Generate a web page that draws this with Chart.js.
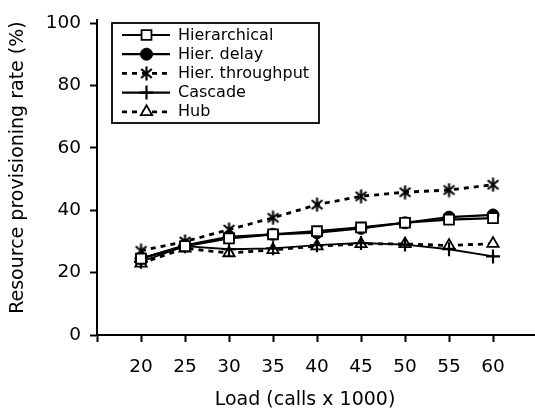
<!DOCTYPE html>
<html><head><meta charset="utf-8">
<script src="https://cdn.jsdelivr.net/npm/chart.js@4/dist/chart.umd.min.js"></script>
<style>html,body{margin:0;padding:0;background:#fff}#wrap{width:535px;height:414px;position:relative}</style>
</head><body><div id="wrap"><canvas id="c" width="535" height="414"></canvas></div>
<script>
// ---- data ----
const loads = [20, 25, 30, 35, 40, 45, 50, 55, 60];
const xTickValues = [15, 20, 25, 30, 35, 40, 45, 50, 55, 60];
const yTickValues = [0, 20, 40, 60, 80, 100];
const seriesNames = ['Hierarchical', 'Hier. delay', 'Hier. throughput', 'Cascade', 'Hub'];
const hierarchical    = [24.5, 28.5, 31.0, 32.3, 33.3, 34.5, 36.0, 37.0, 37.5];
const hierDelay       = [24.5, 28.8, 31.5, 32.3, 32.8, 34.2, 36.0, 37.8, 38.5];
const hierThroughput  = [27.0, 30.0, 33.8, 37.6, 41.8, 44.5, 45.8, 46.5, 48.2];
const cascade         = [23.5, 28.5, 27.5, 27.8, 28.8, 29.5, 29.0, 27.5, 25.2];
const hub             = [23.0, 27.8, 26.3, 27.3, 28.5, 29.2, 29.2, 28.7, 29.3];
const xTitle = 'Load (calls x 1000)';
const yTitle = 'Resource provisioning rate (%)';

const FONT = '"DejaVu Sans", "Liberation Sans", Arial, sans-serif';

function makeAsterisk(size, lw) {
  const c = document.createElement('canvas');
  c.width = c.height = size;
  const g = c.getContext('2d');
  g.strokeStyle = '#000'; g.lineWidth = lw; g.lineCap = 'butt';
  const cx = size / 2, r = size / 2 - 0.5;
  for (const a of [90, 40, 140]) {
    const rad = a * Math.PI / 180;
    g.beginPath();
    g.moveTo(cx - r * Math.cos(rad), cx - r * Math.sin(rad));
    g.lineTo(cx + r * Math.cos(rad), cx + r * Math.sin(rad));
    g.stroke();
  }
  return c;
}
const asterisk = makeAsterisk(15, 2.2);

const pts = arr => arr.map((v, i) => ({ x: loads[i], y: v }));

const datasets = [
  { label: seriesNames[0], data: pts(hierarchical), borderColor: '#000', borderWidth: 2.2,
    pointStyle: 'rect', pointRadius: 7, pointBackgroundColor: '#fff', pointBorderColor: '#000', pointBorderWidth: 1.8 },
  { label: seriesNames[1], data: pts(hierDelay), borderColor: '#000', borderWidth: 2.2,
    pointStyle: 'circle', pointRadius: 6, pointBackgroundColor: '#000', pointBorderColor: '#000', pointBorderWidth: 1 },
  { label: seriesNames[2], data: pts(hierThroughput), borderColor: '#000', borderWidth: 2.8, borderDash: [5, 5],
    pointStyle: asterisk, pointRadius: 7, pointBackgroundColor: '#000', pointBorderColor: '#000', pointBorderWidth: 2 },
  { label: seriesNames[3], data: pts(cascade), borderColor: '#000', borderWidth: 1.8,
    pointStyle: 'cross', pointRadius: 7, pointBackgroundColor: '#000', pointBorderColor: '#000', pointBorderWidth: 2.2 },
  { label: seriesNames[4], data: pts(hub), borderColor: '#000', borderWidth: 2.8, borderDash: [5, 5],
    pointStyle: 'triangle', pointRadius: 6.5, pointBackgroundColor: '#fff', pointBorderColor: '#000', pointBorderWidth: 1.8 }
];
datasets.forEach(d => { d.tension = 0; d.fill = false; d.pointHoverRadius = d.pointRadius; });

const customPlugin = {
  id: 'custom',
  beforeDraw(chart) {
    const ys = chart.scales.y;
    if (ys && !ys._patched) {
      const orig = ys.drawTitle.bind(ys);
      ys.drawTitle = function () {
        const ctx = this.ctx; ctx.save(); ctx.translate(0, -10); orig(); ctx.restore();
      };
      ys._patched = true;
    }
  },
  afterDraw(chart) {
    const ctx = chart.ctx, a = chart.chartArea;
    // extend x axis line to the right edge
    ctx.save();
    ctx.strokeStyle = '#000'; ctx.lineWidth = 2;
    ctx.beginPath(); ctx.moveTo(a.right - 1, a.bottom); ctx.lineTo(chart.width, a.bottom); ctx.stroke();
    // legend
    const bx = 112, by = 23, bw = 207, bh = 100;
    ctx.fillStyle = '#fff'; ctx.fillRect(bx, by, bw, bh);
    ctx.lineWidth = 1.8; ctx.strokeStyle = '#000'; ctx.strokeRect(bx, by, bw, bh);
    ctx.font = '16px ' + FONT; ctx.textBaseline = 'middle'; ctx.textAlign = 'left';
    chart.data.datasets.forEach((ds, i) => {
      const y = 35 + i * 19.2;
      ctx.save();
      ctx.strokeStyle = '#000';
      ctx.lineWidth = ds.borderDash ? 2.8 : 2.2;
      ctx.setLineDash(ds.borderDash || []);
      ctx.beginPath(); ctx.moveTo(122, y); ctx.lineTo(170, y); ctx.stroke();
      ctx.setLineDash([]);
      ctx.fillStyle = ds.pointBackgroundColor; ctx.strokeStyle = ds.pointBorderColor;
      ctx.lineWidth = ds.pointBorderWidth;
      Chart.helpers.drawPoint(ctx, { pointStyle: ds.pointStyle, radius: ds.pointRadius, borderWidth: ds.pointBorderWidth, rotation: 0 }, 146.5, y);
      ctx.restore();
      ctx.fillStyle = '#000';
      ctx.fillText(ds.label, 178, y + 0.5);
    });
    ctx.restore();
  }
};

new Chart(document.getElementById('c'), {
  type: 'line',
  data: { datasets },
  plugins: [customPlugin],
  options: {
    responsive: false, animation: false, devicePixelRatio: 1,
    layout: { padding: { top: 15, right: 22, left: 0, bottom: 0 } },
    plugins: { legend: { display: false }, tooltip: { enabled: false } },
    scales: {
      x: {
        type: 'linear', min: 15, max: 62.27,
        afterBuildTicks: s => { s.ticks = xTickValues.map(v => ({ value: v })); },
        afterFit: s => { s.height = 79; },
        ticks: { color: '#000', font: { family: FONT, size: 18.5 }, padding: 14, maxRotation: 0,
          callback: v => (v === xTickValues[0] ? '' : String(v)) },
        grid: { drawOnChartArea: false, drawTicks: true, tickLength: 7, tickColor: '#000', tickWidth: 2 },
        border: { display: true, color: '#000', width: 2 },
        title: { display: true, text: xTitle, color: '#000', font: { family: FONT, size: 19 }, padding: { top: 0, bottom: 3 } }
      },
      y: {
        type: 'linear', min: 0, max: 101,
        afterBuildTicks: s => { s.ticks = yTickValues.map(v => ({ value: v })); },
        afterFit: s => { s.width = 97; },
        ticks: { color: '#000', font: { family: FONT, size: 18.5 }, padding: 9 },
        grid: { drawOnChartArea: false, drawTicks: true, tickLength: 7, tickColor: '#000', tickWidth: 2 },
        border: { display: true, color: '#000', width: 2 },
        title: { display: true, text: yTitle, color: '#000', font: { family: FONT, size: 19 }, padding: { top: 7, bottom: 0 } }
      }
    }
  }
});
</script>
</body></html>
